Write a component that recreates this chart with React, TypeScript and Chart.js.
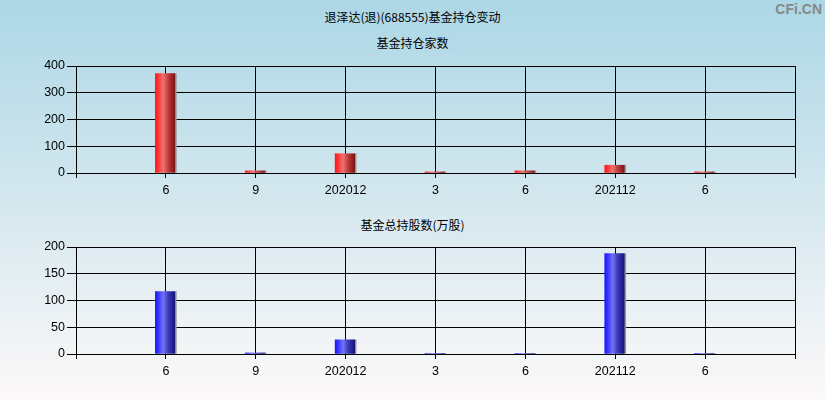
import React, { useEffect, useRef } from 'react';
import { Chart, registerables } from 'chart.js';

Chart.register(...registerables);

const categories = ['', '6', '9', '202012', '3', '6', '202112', '6', ''];
const fundCount = [null, 372, 8, 72, 4, 8, 29, 4, null];
const fundShares = [null, 116.5, 2, 26.5, 1, 1, 187.5, 1, null];
const countAxis = { max: 400, step: 100 };
const sharesAxis = { max: 200, step: 50 };

const mainTitle = '退泽达(退)(688555)基金持仓变动';
const countTitle = '基金持仓家数';
const sharesTitle = '基金总持股数(万股)';

const redStops: [number, string][] = [
  [0, '#ff1818'],
  [0.12, '#ff3030'],
  [0.38, '#ec7272'],
  [0.62, '#c03a3a'],
  [0.93, '#7c1414'],
  [0.95, '#8a8a8a'],
  [1, '#9a9a9a'],
];
const blueStops: [number, string][] = [
  [0, '#1818ff'],
  [0.12, '#3030ff'],
  [0.38, '#7272f4'],
  [0.62, '#3a3ab8'],
  [0.93, '#14147a'],
  [0.95, '#8a8a8a'],
  [1, '#9a9a9a'],
];

const BAR_W = 21;

function barFill(stops: [number, string][]) {
  return (ctx: any) => {
    const chart = ctx.chart;
    const xScale = chart.scales && chart.scales.x;
    if (!xScale || ctx.dataIndex == null) return stops[0][1];
    const cx = xScale.getPixelForValue(ctx.dataIndex);
    if (!Number.isFinite(cx)) return stops[0][1];
    const g = chart.ctx.createLinearGradient(cx - BAR_W / 2, 0, cx + BAR_W / 2, 0);
    stops.forEach(([o, c]) => g.addColorStop(o, c));
    return g;
  };
}

const tickFont = { family: '"Liberation Sans", Arial, sans-serif', size: 12.5 };

function makeConfig(values: (number | null)[], axis: { max: number; step: number }, stops: [number, string][], padTop: number, padBottom: number): any {
  return {
    type: 'bar',
    data: {
      labels: categories,
      datasets: [
        {
          data: values,
          backgroundColor: barFill(stops),
          borderWidth: 0,
          barThickness: BAR_W,
        },
      ],
    },
    options: {
      animation: false,
      responsive: false,
      events: [],
      layout: { padding: { left: 36, right: 30, top: padTop, bottom: padBottom } },
      plugins: { legend: { display: false }, tooltip: { enabled: false }, title: { display: false } },
      scales: {
        x: {
          type: 'category',
          offset: false,
          grid: { offset: false, color: '#000', lineWidth: 1, tickLength: 5, drawTicks: true, tickColor: '#000' },
          border: { color: '#000', width: 1 },
          ticks: { color: '#000', font: tickFont, padding: 5, maxRotation: 0, autoSkip: false },
          afterFit: (s: any) => {
            s.height = 22;
          },
        },
        y: {
          min: 0,
          max: axis.max,
          grid: { color: '#000', lineWidth: 1, tickLength: 9, tickColor: '#000' },
          border: { color: '#000', width: 1 },
          ticks: { stepSize: axis.step, color: '#000', font: tickFont, padding: 2 },
          afterFit: (s: any) => {
            s.width = 40;
          },
        },
      },
    },
  };
}

function ChartCanvas({ config, top }: { config: any; top: number }) {
  const ref = useRef<HTMLCanvasElement | null>(null);
  useEffect(() => {
    if (!ref.current) return;
    const chart = new Chart(ref.current, config);
    return () => chart.destroy();
  }, [config]);
  return (
    <canvas
      ref={ref}
      width={825}
      height={200}
      style={{ position: 'absolute', left: 0, top, width: 825, height: 200 }}
    />
  );
}

const countConfig = makeConfig(fundCount, countAxis, redStops, 66, 5);
const sharesConfig = makeConfig(fundShares, sharesAxis, blueStops, 47, 24);

const titleStyle: React.CSSProperties = {
  position: 'absolute',
  left: 0,
  width: 825,
  textAlign: 'center',
  fontFamily: '"Noto Sans CJK SC", "Liberation Sans", sans-serif',
  fontSize: 12,
  lineHeight: '12px',
  color: '#000',
  whiteSpace: 'nowrap',
};

export default function App() {
  return (
    <div
      style={{
        position: 'fixed',
        left: 0,
        top: 0,
        width: 825,
        height: 400,
        overflow: 'hidden',
        background: 'linear-gradient(to bottom, #acd7e6 0%, #d4e7ee 50%, #fdf9f9 100%)',
      }}
    >
      <div style={{ ...titleStyle, top: 11 }}>{mainTitle}</div>
      <div style={{ ...titleStyle, top: 37 }}>{countTitle}</div>
      <div style={{ ...titleStyle, top: 219 }}>{sharesTitle}</div>
      <div
        style={{
          position: 'absolute',
          right: 3,
          top: 1,
          fontFamily: '"Liberation Sans", Arial, sans-serif',
          fontWeight: 'bold',
          fontSize: 14,
          lineHeight: '16px',
          color: '#888',
        }}
      >
        CFi.CN
      </div>
      <ChartCanvas config={countConfig} top={0} />
      <ChartCanvas config={sharesConfig} top={200} />
    </div>
  );
}
